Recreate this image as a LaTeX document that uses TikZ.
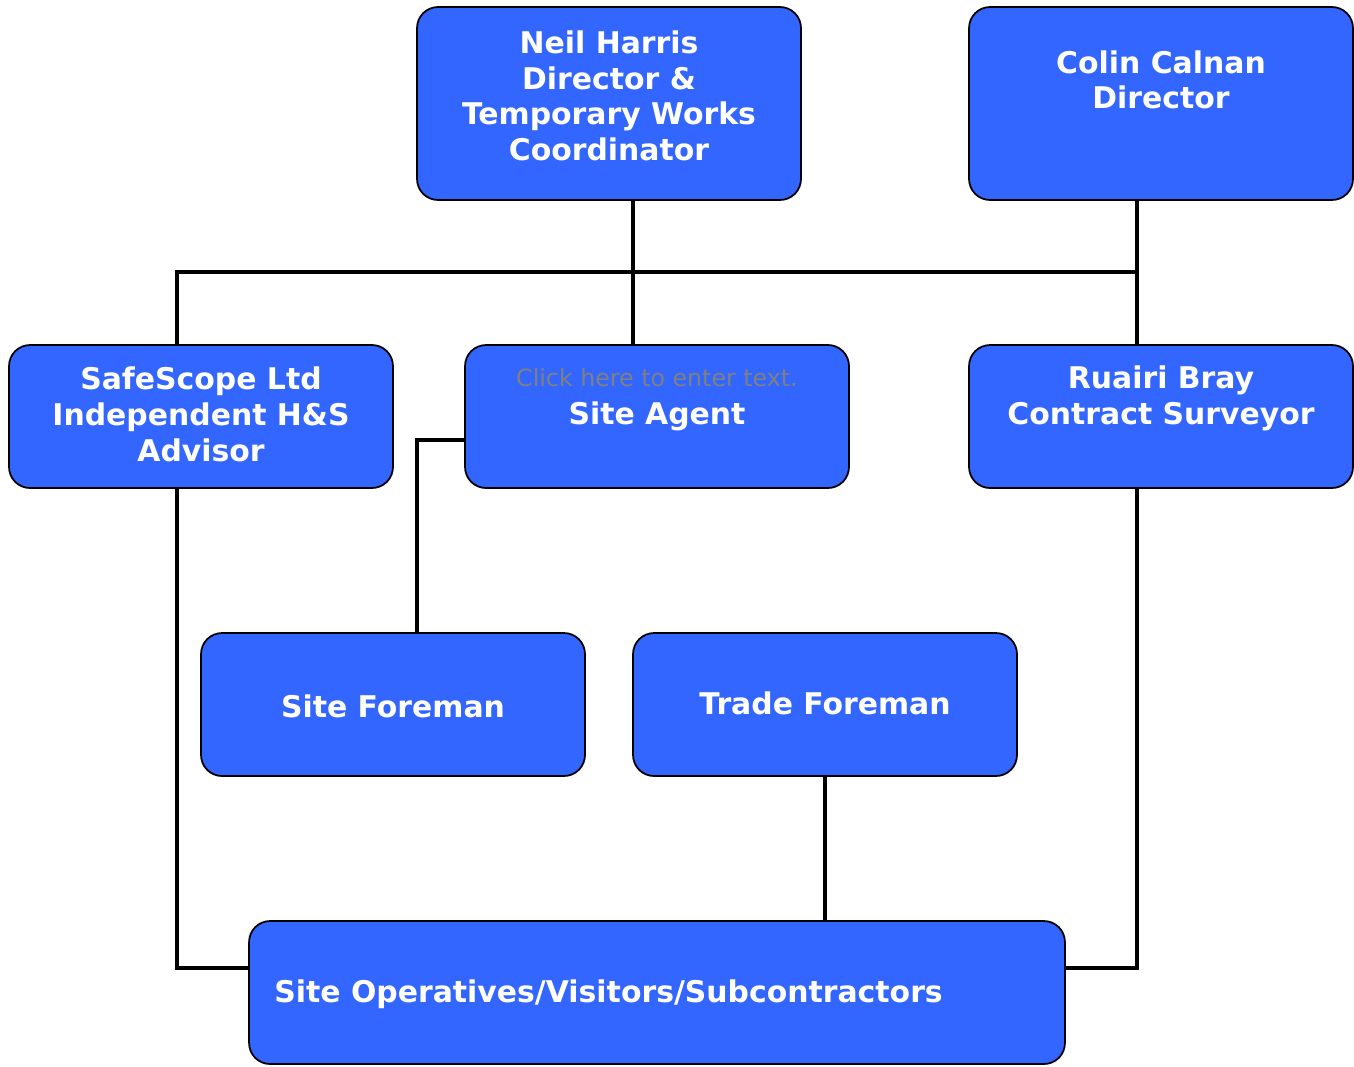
\documentclass[tikz,border=0pt]{standalone}
\usepackage{fontspec}
\setmainfont{DejaVu Sans}
\definecolor{boxblue}{HTML}{3366FF}
\definecolor{hintgrey}{HTML}{808080}
\tikzset{
  box/.style={draw, line width=1pt, fill=boxblue, rounded corners=0.42cm,
    minimum width=7.68cm, minimum height=2.86cm, inner sep=0pt},
  tall/.style={minimum height=3.86cm},
  title/.style={text=white, font=\fontsize{17}{20.3}\selectfont\bfseries, align=center, inner sep=0pt},
  hint/.style={text=hintgrey, font=\fontsize{13.5}{16}\selectfont, inner sep=0pt},
  link/.style={line width=2.2pt}
}
\begin{document}
\begin{tikzpicture}[x=0.02cm, y=-0.02cm]
\useasboundingbox (0,0) rectangle (1354,1066);

% boxes
\node[box, tall] (neil) at (609,103.5) {};
\node[box, tall] (colin) at (1161,103.5) {};
\node[box] (safe) at (201,416.5) {};
\node[box] (agent) at (657,416.5) {};
\node[box] (ruairi) at (1161,416.5) {};
\node[box] (sitefm) at (393,704.5) {};
\node[box] (tradefm) at (825,704.5) {};
\node[box, minimum width=16.32cm] (ops) at (657,992.5) {};

% texts
\node[title] (neiltxt) at (609,96) {Neil Harris\\Director \&\\Temporary Works\\Coordinator};
\node[title] (colintxt) at (1161,80) {Colin Calnan\\Director};
\node[title] (safetxt) at (201,414.5) {SafeScope Ltd\\Independent H\&S\\Advisor};
\node[hint] (hinttxt) at (657,378) {Click here to enter text.};
\node[title] (agenttxt) at (657,416.5) {Site Agent};
\node[title] (ruairitxt) at (1161,398.5) {Ruairi Bray\\Contract Surveyor};
\node[title] (sitefmtxt) at (393,706) {Site Foreman};
\node[title] (tradefmtxt) at (825,703.5) {Trade Foreman};
\node[title, anchor=west] (opstxt) at (274,994) {Site Operatives/Visitors/Subcontractors};

% connectors
\coordinate (busL) at (177,272);
\coordinate (busR) at (1137,272);
\coordinate (drop) at (633,272);
\coordinate (tap) at (417,440);
\coordinate (feed) at (0,968);

\draw[link] (neil.south -| drop) -- (agent.north -| drop);
\draw[link] (colin.south -| busR) -- (ruairi.north -| busR);
\draw[link] (safe.north -| busL) -- (busL) -- (busR);
\draw[link] (safe.south -| busL) |- (ops.west |- feed);
\draw[link] (ruairi.south -| busR) |- (ops.east |- feed);
\draw[link] (agent.west |- tap) -| (sitefm.north -| tap);
\draw[link] (tradefm.south) -- (ops.north -| tradefm.south);
\end{tikzpicture}
\end{document}
